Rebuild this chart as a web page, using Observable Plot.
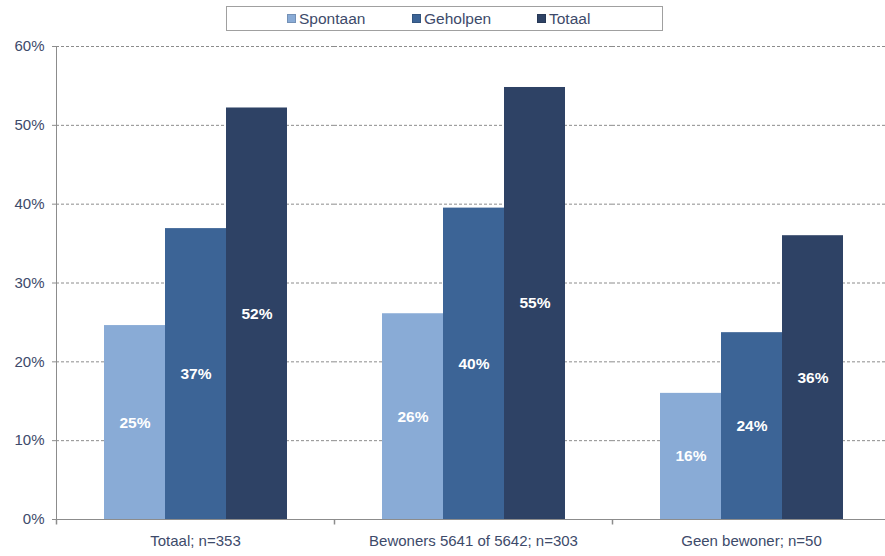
<!DOCTYPE html>
<html>
<head>
<meta charset="utf-8">
<script src="https://cdn.jsdelivr.net/npm/d3@7"></script>
<script src="https://cdn.jsdelivr.net/npm/@observablehq/plot@0.6"></script>
<style>
  html, body { margin: 0; padding: 0; overflow: hidden; background: #fff; }
  #wrap { position: relative; width: 885px; height: 556px; overflow: hidden; font-family: "Liberation Sans", Arial, sans-serif; }
  #legend { position: absolute; left: 226px; top: 6px; width: 437px; height: 25px; box-sizing: border-box;
            border: 1px solid #a0a0a0; background: #fff; display: flex; align-items: center; padding-left: 60px; z-index: 2; }
  .item { width: 136px; display: flex; align-items: center; font-size: 15.5px; color: #3d4a6a; }
  .sw { width: 9px; height: 9px; margin-right: 3px; box-sizing: border-box; border: 1px solid rgba(0,0,0,0.15); }
  #chart { position: absolute; left: 0; top: 0; width: 890px; }
  #chart svg { max-width: none !important; }
</style>
</head>
<body>
<div id="wrap">
  <div id="legend"></div>
  <div id="chart"></div>
</div>
<script>
const groups = ["Totaal; n=353", "Bewoners 5641 of 5642; n=303", "Geen bewoner; n=50"];
const series = ["Spontaan", "Geholpen", "Totaal"];
const spontaan = [0.246, 0.261, 0.160];
const geholpen = [0.369, 0.395, 0.237];
const totaal = [0.522, 0.548, 0.360];
const colors = ["#89abd6", "#3c6496", "#2e4265"];
const yTicks = [0, 0.1, 0.2, 0.3, 0.4, 0.5, 0.6];

const values = [spontaan, geholpen, totaal];
const data = [];
groups.forEach((g, gi) => series.forEach((s, si) => data.push({group: g, series: s, value: values[si][gi]})));

const textColor = "#3d4a6a";
const tickSym = {draw(ctx) { ctx.moveTo(0, 0); ctx.lineTo(0, 5); }};

const chart = Plot.plot({
  width: 890,
  height: 556,
  marginTop: 46,
  marginBottom: 37,
  marginLeft: 56,
  marginRight: 0,
  style: {fontFamily: "'Liberation Sans', Arial, sans-serif", fontSize: "15px", color: textColor, background: "transparent", maxWidth: "none"},
  fx: {domain: groups, padding: 0, label: null},
  x: {domain: series, paddingInner: 0, paddingOuter: 0.742, axis: null},
  y: {domain: [0, 0.6], label: null},
  color: {domain: series, range: colors},
  marks: [
    Plot.gridY(yTicks.slice(1), {stroke: "#8c8c8c", strokeOpacity: 1, strokeDasharray: "3,2", strokeWidth: 1}),
    Plot.barY(data, {fx: "group", x: "series", y: "value", fill: "series"}),
    Plot.text(data, {fx: "group", x: "series", y: d => d.value / 2, text: d => Math.round(d.value * 100) + "%",
      fill: "white", fontWeight: "bold", fontSize: 15.5}),
    Plot.ruleY([0], {stroke: "#8c8c8c", strokeWidth: 1.2}),
    Plot.dot([0], {frameAnchor: "bottom-left", symbol: tickSym, stroke: "#8c8c8c", r: 5}),
    Plot.axisY(yTicks, {tickFormat: d => Math.round(d * 100) + "%", tickSize: 4, tickPadding: 8, stroke: "#8c8c8c",
      fill: textColor, fontSize: 15, label: null}),
    Plot.axisFx({anchor: "bottom", tickSize: 0, tickPadding: 16, fill: textColor, fontSize: 15, label: null}),
    Plot.frame({anchor: "left", stroke: "#8c8c8c", facetAnchor: "left"})
  ]
});
document.getElementById("chart").appendChild(chart);

const legend = document.getElementById("legend");
series.forEach((s, i) => {
  const it = document.createElement("div");
  it.className = "item";
  it.innerHTML = `<span class="sw" style="background:${colors[i]}"></span><span>${s}</span>`;
  legend.appendChild(it);
});
</script>
</body>
</html>
